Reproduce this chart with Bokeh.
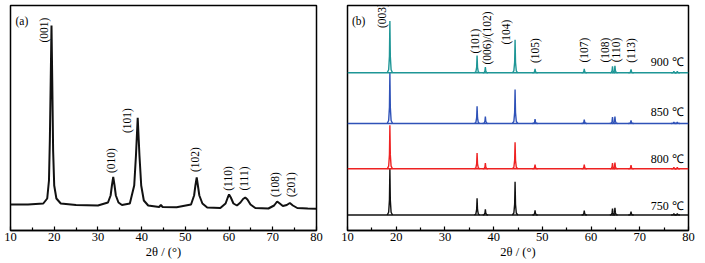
import numpy as np
from bokeh.plotting import figure
from bokeh.layouts import row
from bokeh.models import Range1d, FixedTicker
from bokeh.core.properties import value
from bokeh.embed import file_html
from bokeh.resources import INLINE

FONT = "'Liberation Serif', 'Times New Roman', serif"

# ---------------- data: panel (a) ----------------
a_x = [10, 14, 17.5, 18.4, 18.8, 19.0, 19.2, 19.38, 19.55, 19.75,
       20.0, 20.5, 21.5, 25, 30, 32.3, 32.9, 33.2, 33.5, 33.8,
       34.1, 34.7, 35.5, 37.3, 38.3, 38.7, 39.1, 39.5, 39.9, 40.5,
       41.5, 44, 44.4, 44.8, 48, 51.3, 52.0, 52.3, 52.6, 52.9,
       53.2, 53.9, 55, 58, 59.2, 59.7, 60.0, 60.4, 61.0, 61.8,
       62.6, 63.2, 63.7, 64.2, 64.9, 66, 69, 70.3, 71.0, 71.6,
       72.3, 73.2, 73.9, 74.6, 75.6, 78, 80]
a_y = [26, 26, 27, 32, 50, 90, 150, 205, 150, 80,
       45, 32, 27, 25.5, 25, 28, 35, 45, 53.5, 45,
       35, 28, 25.5, 27, 45, 75, 112.7, 75, 45, 30,
       25, 23.5, 25.5, 23.5, 23.3, 26, 35, 45, 53, 44,
       35, 27, 23, 22.5, 27, 33, 36, 33, 27, 25,
       28, 31.5, 33, 31, 26, 22.5, 22, 25, 29, 27,
       24.5, 25.5, 27.5, 25, 22.5, 22, 21.7]
a_labels = ["(001)", "(010)", "(101)", "(102)", "(110)", "(111)", "(108)", "(201)"]
a_label_x = [17.66, 33.1, 36.7, 52.1, 59.7, 63.4, 70.4, 74.1]
a_label_y = [200.5, 70, 110, 71, 52, 52, 46, 46]

# ---------------- data: panel (b) ----------------
b_peaks = [18.7, 36.6, 38.3, 44.4, 48.5, 58.6, 64.4, 64.9, 68.2, 77.0, 77.7]
b_750 = [46.5, 16.7, 5.7, 33.3, 4.7, 4.3, 6.5, 7.3, 3.3, 1.5, 1.5]
b_800 = [43.5, 15.7, 5.7, 26.6, 4.3, 4.3, 5.8, 6.3, 3.7, 1.5, 1.5]
b_850 = [51.0, 17.3, 7.0, 34.0, 4.5, 4.0, 6.5, 7.0, 3.0, 1.5, 1.5]
b_900 = [51.7, 17.3, 5.7, 33.0, 4.0, 4.0, 6.5, 7.0, 3.3, 1.5, 1.5]
b_offsets = [15.5, 61.7, 107.0, 157.7]
b_temps = ["750 ℃", "800 ℃", "850 ℃", "900 ℃"]
b_colors = ["#111111", "#EE2222", "#2F52B8", "#1E9696"]
b_labels = ["(003)", "(101)", "(006)/(102)", "(104)", "(105)", "(107)", "(108)", "(110)", "(113)"]
b_label_x = [17.05, 36.22, 38.68, 42.58, 48.53, 58.45, 62.9, 65.06, 68.18]
b_label_y = [215, 189.5, 192.5, 198.5, 180, 180.5, 180.5, 180.5, 180]
b_temp_y = [25, 72, 118.3, 169]

# style of a sharp reflection (shape only)
SPIKE_DX = [-0.55, -0.25, -0.09, 0.0, 0.09, 0.25, 0.55]
SPIKE_FRAC = [0, 0.06, 0.32, 1, 0.32, 0.06, 0]

TICKS = [10, 20, 30, 40, 50, 60, 70, 80]
MINOR = [15, 25, 35, 45, 55, 65, 75]


def make_fig(width, left, right):
    p = figure(width=width, height=263, output_backend="svg", toolbar_location=None,
               x_range=Range1d(10, 80), y_range=Range1d(0, 225),
               min_border_left=left, min_border_right=right,
               min_border_top=5, min_border_bottom=33)
    p.grid.visible = False
    p.yaxis.visible = False
    p.outline_line_color = "black"
    p.outline_line_width = 1.5
    p.outline_line_alpha = 1
    p.background_fill_color = "white"
    p.border_fill_color = "white"
    ax = p.xaxis[0]
    ax.ticker = FixedTicker(ticks=TICKS, minor_ticks=MINOR)
    ax.axis_line_color = "black"
    ax.axis_line_width = 1.5
    ax.major_tick_in = 4
    ax.major_tick_out = 0
    ax.minor_tick_in = 3
    ax.minor_tick_out = 0
    ax.major_tick_line_color = "black"
    ax.minor_tick_line_color = "black"
    ax.major_tick_line_width = 1.2
    ax.minor_tick_line_width = 1.2
    ax.major_label_standoff = 2
    ax.major_label_text_font = FONT
    ax.major_label_text_font_size = "12.5px"
    ax.major_label_text_color = "black"
    ax.axis_label = "2θ / (°)"
    ax.axis_label_standoff = 1
    ax.axis_label_text_font = FONT
    ax.axis_label_text_font_size = "12.5px"
    ax.axis_label_text_font_style = "normal"
    ax.axis_label_text_color = "black"
    return p


# ---------------- panel (a) ----------------
pa = make_fig(330, 10, 14)
pa.line(a_x, a_y, line_color="#111111", line_width=2)
pa.text(x=a_label_x, y=a_label_y, text=a_labels, angle=np.pi / 2,
        text_align="center", text_baseline="middle",
        text_font=value(FONT), text_font_size="11.5px", text_color="black")
pa.text(x=[12.6], y=[210], text=["(a)"], text_align="center", text_baseline="middle",
        text_font=value(FONT), text_font_size="11.5px", text_color="black")

# ---------------- panel (b) ----------------
pb = make_fig(375, 17, 17)
for base, heights, color in zip(b_offsets, [b_750, b_800, b_850, b_900], b_colors):
    xs = [[10, 80]]
    ys = [[base, base]]
    for x0, h in zip(b_peaks, heights):
        xs.append([x0 + d for d in SPIKE_DX])
        ys.append([base + h * f for f in SPIKE_FRAC])
    pb.multi_line(xs=xs, ys=ys, line_color=color, line_width=1.4)

pb.text(x=b_label_x, y=b_label_y, text=b_labels, angle=np.pi / 2,
        text_align="center", text_baseline="middle",
        text_font=value(FONT), text_font_size="11.5px", text_color="black")
pb.text(x=[79.0] * 4, y=b_temp_y, text=b_temps, text_align="right", text_baseline="middle",
        text_font=value(FONT), text_font_size="12px", text_color="black")
pb.text(x=[12.3], y=[210], text=["(b)"], text_align="center", text_baseline="middle",
        text_font=value(FONT), text_font_size="11.5px", text_color="black")

layout = row(pa, pb)
open("out.html", "w").write(file_html(layout, INLINE))
